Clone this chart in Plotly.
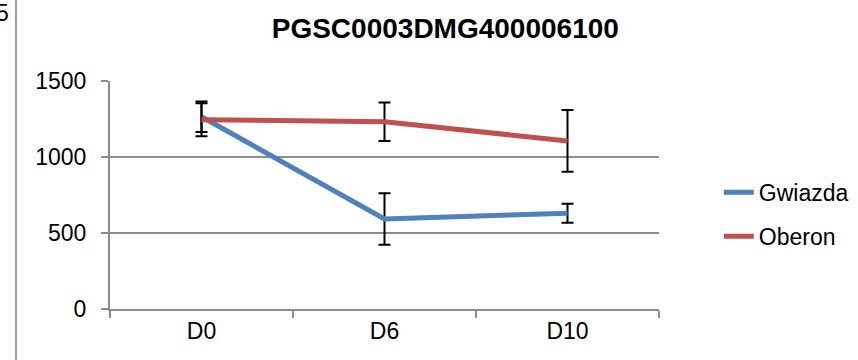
import plotly.graph_objects as go

categories = ["D0", "D6", "D10"]
gwiazda = [1265, 592, 630]
gwiazda_err = [100, 170, 62]
oberon = [1245, 1232, 1106]
oberon_err = [108, 127, 203]
y_ticks = [0, 500, 1000, 1500]

FONT = "Liberation Sans"
GRID = "#8c8c8c"

fig = go.Figure()
fig.add_trace(go.Scatter(
    x=categories, y=gwiazda, name="Gwiazda", mode="lines",
    line=dict(color="#4F81BD", width=5), legendgroup="g",
    error_y=dict(type="data", array=gwiazda_err, visible=True,
                 color="black", thickness=2, width=6),
))
fig.add_trace(go.Scatter(
    x=categories, y=oberon, name="Oberon", mode="lines",
    line=dict(color="#C0504D", width=5), legendgroup="o",
    error_y=dict(type="data", array=oberon_err, visible=True,
                 color="black", thickness=2, width=6),
))

fig.update_layout(
    width=858, height=360,
    margin=dict(l=110, r=199, t=81, b=51, autoexpand=False),
    paper_bgcolor="white", plot_bgcolor="white",
    font=dict(family=FONT, size=23, color="black"),
    title=dict(text="<b>PGSC0003DMG400006100</b>", x=0.519, xref="container",
               xanchor="center", y=0.922, yref="container", yanchor="middle",
               font=dict(family=FONT, size=28, color="black")),
    legend=dict(x=1.109, xref="paper", xanchor="left", y=0.415, yanchor="middle",
                tracegroupgap=11, font=dict(size=23), bgcolor="rgba(0,0,0,0)"),
    showlegend=True,
)
fig.update_xaxes(
    type="category", range=[-0.5, 2.5], tickson="boundaries",
    showline=True, linecolor=GRID, linewidth=2,
    ticks="outside", ticklen=7, tickcolor=GRID, tickwidth=2,
    showgrid=False, tickfont=dict(size=23),
)
fig.update_yaxes(
    range=[0, 1500], tickvals=y_ticks, ticktext=[str(v) for v in y_ticks],
    showline=True, linecolor=GRID, linewidth=2,
    ticks="outside", ticklen=7, tickcolor=GRID, tickwidth=2,
    showgrid=True, gridcolor=GRID, gridwidth=2, zeroline=False,
    ticklabelstandoff=10, tickfont=dict(size=23),
)

# cropped neighbour artefacts at the left edge
fig.add_shape(type="line", xref="paper", yref="paper",
              x0=-94/549, x1=-94/549, y0=-0.3, y1=1.5,
              line=dict(color="#a0a0a0", width=2))
fig.add_annotation(text="5", xref="paper", yref="paper",
                   x=-99/549, y=1 + 83/228, xanchor="right", yanchor="top",
                   showarrow=False, font=dict(family=FONT, size=23, color="black"))

fig.write_html(
    "out.html",
    config={"displayModeBar": False},
    post_script="document.body.style.margin='0';document.body.style.overflow='hidden';",
)
